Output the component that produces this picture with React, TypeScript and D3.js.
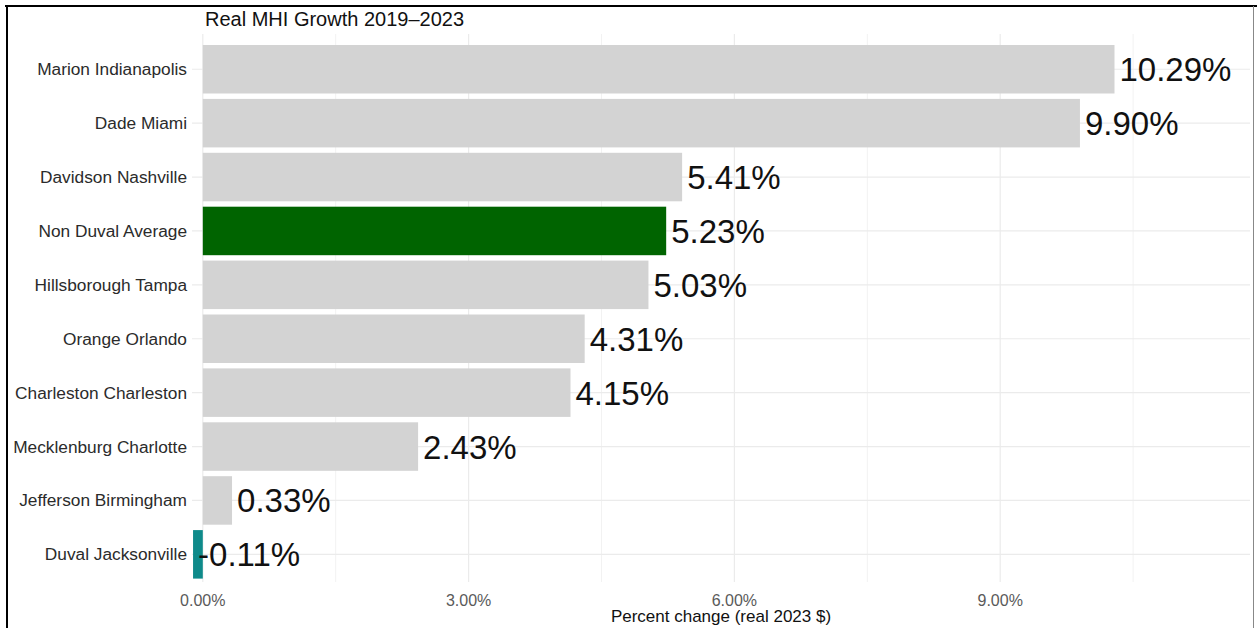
import React from "react";
import * as d3 from "d3";

const categories = [
  "Marion Indianapolis",
  "Dade Miami",
  "Davidson Nashville",
  "Non Duval Average",
  "Hillsborough Tampa",
  "Orange Orlando",
  "Charleston Charleston",
  "Mecklenburg Charlotte",
  "Jefferson Birmingham",
  "Duval Jacksonville",
];
const values = [10.29, 9.9, 5.41, 5.23, 5.03, 4.31, 4.15, 2.43, 0.33, -0.11];
const majorTicks = [0, 3, 6, 9];
const minorTicks = [1.5, 4.5, 7.5, 10.5];
const title = "Real MHI Growth 2019–2023";
const xTitle = "Percent change (real 2023 $)";

const W = 1257;
const H = 628;
const FONT = "'Liberation Sans', Arial, Helvetica, sans-serif";

function barColor(name: string): string {
  if (name === "Non Duval Average") return "#006400";
  if (name === "Duval Jacksonville") return "#0e8a8a";
  return "#d3d3d3";
}

export default function App() {
  const panelLeft = 192;
  const panelRight = 1250;
  const panelTop = 34;
  const panelBottom = 582;

  const x = d3.scaleLinear().domain([0, 3]).range([202.8, 468.6]);
  const y = d3
    .scaleBand<string>()
    .domain(categories)
    .range([42.3, 581.3])
    .paddingInner(0.1)
    .paddingOuter(0.05);

  const fmt = (v: number) => (v < 0 ? "-" : "") + Math.abs(v).toFixed(2) + "%";

  return (
    <svg
      width={W}
      height={H}
      style={{ position: "absolute", left: 0, top: 0, background: "#fff" }}
      fontFamily={FONT}
    >
      <rect x={0} y={0} width={W} height={H} fill="#fff" />
      {/* frame */}
      <line x1={5} x2={W} y1={6} y2={6} stroke="#000" strokeWidth={2} />
      <line x1={7} x2={7} y1={5} y2={H} stroke="#000" strokeWidth={2} />
      <line x1={1253.5} x2={1253.5} y1={6} y2={H} stroke="#888" strokeWidth={1} />

      {/* grid */}
      {minorTicks.map((t) => (
        <line
          key={"mn" + t}
          x1={x(t)}
          x2={x(t)}
          y1={panelTop}
          y2={panelBottom}
          stroke="#f2f2f2"
          strokeWidth={1}
        />
      ))}
      {majorTicks.map((t) => (
        <line
          key={"mj" + t}
          x1={x(t)}
          x2={x(t)}
          y1={panelTop}
          y2={panelBottom}
          stroke="#ebebeb"
          strokeWidth={1.2}
        />
      ))}
      {categories.map((c) => (
        <line
          key={"hg" + c}
          x1={panelLeft}
          x2={panelRight}
          y1={(y(c) ?? 0) + y.bandwidth() / 2}
          y2={(y(c) ?? 0) + y.bandwidth() / 2}
          stroke="#ebebeb"
          strokeWidth={1.2}
        />
      ))}

      {/* bars */}
      {categories.map((c, i) => {
        const v = values[i];
        const x0 = x(Math.min(0, v));
        const x1 = x(Math.max(0, v));
        return (
          <rect
            key={"b" + c}
            x={x0}
            y={y(c)}
            width={x1 - x0}
            height={y.bandwidth()}
            fill={barColor(c)}
          />
        );
      })}

      {/* value labels */}
      {categories.map((c, i) => (
        <text
          key={"v" + c}
          x={x(values[i]) + 5}
          y={(y(c) ?? 0) + y.bandwidth() / 2 + 12}
          fontSize={33}
          fill="#111"
        >
          {fmt(values[i])}
        </text>
      ))}

      {/* category labels */}
      {categories.map((c) => (
        <text
          key={"c" + c}
          x={187}
          y={(y(c) ?? 0) + y.bandwidth() / 2 + 6}
          fontSize={17.3}
          textAnchor="end"
          fill="#2b2b2b"
        >
          {c}
        </text>
      ))}

      {/* x tick labels */}
      {majorTicks.map((t) => (
        <text
          key={"t" + t}
          x={x(t)}
          y={606}
          fontSize={16}
          textAnchor="middle"
          fill="#5a5a5a"
        >
          {fmt(t)}
        </text>
      ))}

      <text
        x={(panelLeft + panelRight) / 2}
        y={622}
        fontSize={17}
        textAnchor="middle"
        fill="#111"
      >
        {xTitle}
      </text>

      <text x={205} y={26} fontSize={20} fill="#111">
        {title}
      </text>
    </svg>
  );
}
